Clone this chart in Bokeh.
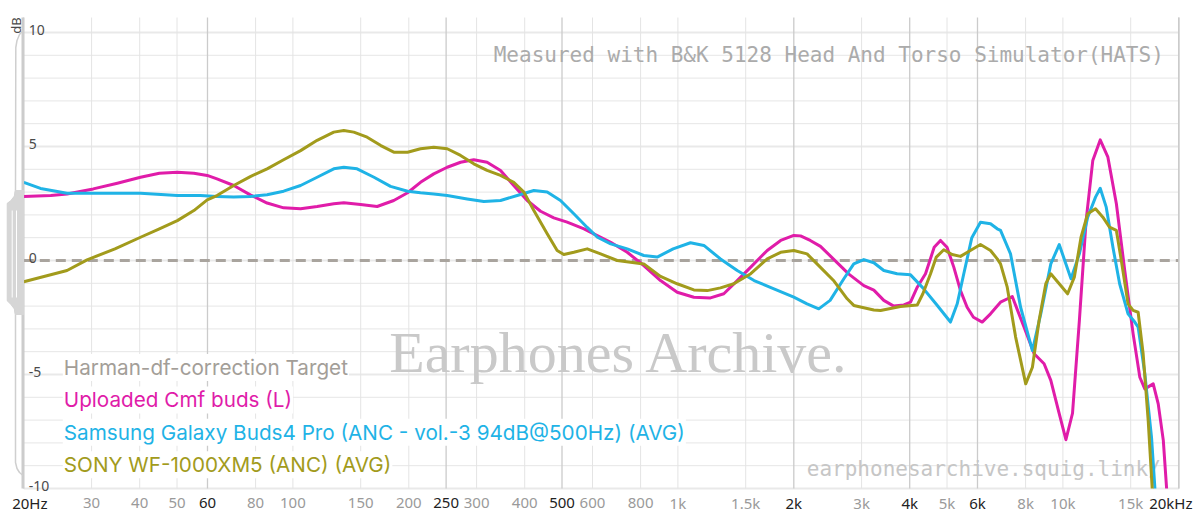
import numpy as np
from bokeh.plotting import figure
from bokeh.models import Range1d, ColumnDataSource
from bokeh.core.properties import value
from bokeh.embed import file_html
from bokeh.resources import INLINE

# ---------------- data ----------------
target_freq = [20, 20000]
target_db = [0.0, 0.0]

cmf_freq = [20, 23.5, 25.9, 30.3, 35.0, 40.2, 45.0, 50.1, 55.3, 59.9, 63.5, 70.2, 77.5, 85.7,
            94.6, 104.7, 115.6, 127.7, 135.6, 149.9, 165.5, 182.8, 198.6, 214.5, 232.2, 251.7,
            272.6, 295.0, 319.4, 346.2, 374.6, 406.1, 439.8, 476.1, 515.6, 570.4, 604.7, 669.0,
            738.6, 815.4, 901.2, 995.8, 1100, 1215, 1316, 1426, 1546, 1706, 1849, 2000, 2082,
            2207, 2346, 2544, 2780, 3040, 3228, 3426, 3636, 3862, 4020, 4185, 4397, 4631, 4809,
            5000, 5207, 5420, 5639, 5857, 6171, 6486, 6885, 7387, 7924, 8420, 8936, 9302, 9782,
            10182, 10592, 11036, 11488, 11958, 12500, 13088, 13768, 14474, 15220, 15842, 16322,
            17162, 17685, 18230, 18594]
cmf_db = [2.81, 2.85, 2.92, 3.14, 3.39, 3.65, 3.83, 3.87, 3.83, 3.73, 3.58, 3.29, 2.88, 2.52,
          2.31, 2.27, 2.37, 2.49, 2.53, 2.46, 2.37, 2.63, 2.97, 3.43, 3.80, 4.09,
          4.31, 4.42, 4.31, 3.95, 3.29, 2.63, 2.16, 1.87, 1.68, 1.39, 1.17, 0.80,
          0.36, -0.22, -0.88, -1.39, -1.61, -1.64, -1.46, -0.88, -0.29, 0.44, 0.88, 1.10, 1.08,
          0.88, 0.62, 0.04, -0.60, -1.10, -1.30, -1.75, -2.0, -1.95, -1.83, -1.17, -0.58, 0.58, 0.88,
          0.58, -0.29, -1.32, -2.05, -2.49, -2.70, -2.34, -1.83, -1.58, -2.92, -4.09, -4.53, -5.26, -6.72,
          -7.86, -6.70, -2.63, 1.75, 4.39, 5.29, 4.53, 2.49, -0.44, -3.22, -5.12, -5.63,
          -5.41, -6.29, -7.89, -10.0]

sam_freq = [20, 22.1, 25.9, 31.6, 40.2, 50.1, 57.5, 63.5, 70.2, 77.5, 85.7, 94.6, 104.7, 115.6,
            127.7, 135.6, 146.8, 162.4, 179.3, 198.6, 214.5, 232.2, 251.7, 283.6, 313.3, 346.2,
            382.5, 422.5, 457.6, 495.5, 536.6, 581.4, 618, 669, 738.6, 815.4, 883.6, 972, 1078,
            1168, 1290, 1426, 1577, 1776, 2000, 2165, 2322, 2485, 2698, 2863, 3040, 3228, 3426,
            3710, 4020, 4328, 4690, 5105, 5315, 5528, 5800, 6108, 6486, 6752, 6886, 7310, 7765,
            8333, 8760, 9302, 9782, 10182, 10496, 11036, 11600, 12154, 12500, 12958, 13488,
            14040, 14764, 15368, 15683, 16322, 16988, 17338]
sam_db = [3.43, 3.16, 2.95, 2.95, 2.95, 2.85, 2.85, 2.81, 2.78, 2.81, 2.88, 3.04, 3.29, 3.65,
          4.02, 4.09, 4.02, 3.65, 3.25, 3.04, 2.97, 2.92, 2.85, 2.70, 2.59, 2.63,
          2.85, 3.07, 3.0, 2.63, 2.05, 1.45, 1.02, 0.73, 0.51, 0.22, 0.15, 0.51, 0.78,
          0.66, 0.07, -0.44, -0.88, -1.24, -1.61, -1.90, -2.12, -1.75, -0.80, -0.15, 0.04, -0.10, -0.44,
          -0.58, -0.63, -1.20, -1.92, -2.70, -1.90, -0.58, 1.0, 1.68, 1.61, 1.39, 1.32, 0.29, -2.05,
          -3.95, -2.34, -0.15, 0.70, -0.15, -0.80, 0.29, 1.90, 2.78, 3.17, 2.34, 0.58,
          -1.02, -2.34, -2.70, -2.92, -4.97, -7.75, -10.0]

sony_freq = [20, 25.9, 29.2, 34.5, 40.2, 45.0, 50.1, 55.3, 59.9, 63.5, 70.2, 77.5, 85.7, 94.6,
             104.7, 115.6, 127.7, 135.6, 143.9, 155.9, 169.2, 182.8, 198.6, 214.5, 232.2, 251.7,
             272.6, 295.0, 319.4, 346.2, 374.6, 398.1, 422.5, 457.6, 485.7, 505.4, 536.6, 581.4,
             629.7, 695.6, 815.4, 901.2, 995.8, 1100, 1192, 1290, 1397, 1546, 1706, 1849, 2000,
             2165, 2346, 2544, 2752, 2863, 3228, 3360, 3785, 4185, 4328, 4531, 4690, 4905, 5155,
             5420, 5750, 6108, 6486, 6752, 6886, 7168, 7537, 8006, 8333, 8672, 9028, 9302, 9782,
             10286, 10707, 11145, 11600, 12154, 12700, 13214, 13768, 14183, 14764, 15220, 15683,
             16158, 16656, 17060]
sony_db = [-0.93, -0.44, 0.03, 0.51, 1.02, 1.39, 1.75, 2.19, 2.66, 2.85, 3.29, 3.68, 4.02, 4.42,
           4.82, 5.27, 5.63, 5.70, 5.63, 5.41, 5.04, 4.75, 4.75, 4.90, 4.97, 4.90,
           4.61, 4.24, 3.95, 3.73, 3.43, 3.0, 2.19, 1.17, 0.44, 0.26, 0.36, 0.51,
           0.29, 0.0, -0.15, -0.70, -1.02, -1.29, -1.32, -1.20, -1.02, -0.58, 0.07, 0.36, 0.44,
           0.29, -0.30, -0.90, -1.68, -1.97, -2.17, -2.19, -2.02, -1.95, -1.46, -0.58, 0.15, 0.47, 0.26,
           0.18, 0.44, 0.70, 0.44, 0.07, -0.15, -1.17, -3.36, -5.41, -4.68, -2.63, -1.02, -0.58, -1.02,
           -1.46, -0.73, 1.02, 2.05, 2.27, 1.90, 1.46, 1.32, 0.0, -1.90, -2.19, -2.27,
           -4.09, -7.02, -10.0]

legend_names = ["Harman-df-correction Target", "Uploaded Cmf buds (L)",
                "Samsung Galaxy Buds4 Pro (ANC - vol.-3 94dB@500Hz) (AVG)",
                "SONY WF-1000XM5 (ANC) (AVG)"]
legend_colors = ["#a39e98", "#e01ca9", "#1fb3e6", "#a29b1c"]

x_ticks = [20, 30, 40, 50, 60, 80, 100, 150, 200, 250, 300, 400, 500, 600, 800, 1000,
           1500, 2000, 3000, 4000, 5000, 6000, 8000, 10000, 15000, 20000]
x_tick_labels = ["20Hz", "30", "40", "50", "60", "80", "100", "150", "200", "250", "300", "400",
                 "500", "600", "800", "1k", "1.5k", "2k", "3k", "4k", "5k", "6k", "8k", "10k",
                 "15k", "20kHz"]
x_major = ["20Hz", "60", "250", "500", "2k", "4k", "6k", "20kHz"]
y_ticks = [10, 5, 0, -5, -10]
y_tick_labels = ["10", "5", "0", "-5", "-10"]

# ---------------- layout helpers (page pixels) ----------------
W, H = 1196, 524
ORIGIN_X, ORIGIN_Y = 0, 0   # where the canvas lands on the page
PX_DEC = 385.0        # pixels per decade
PX_20 = 23.3          # page x of 20 Hz
PX_DB = 22.8          # pixels per dB
PY_0 = 260.0          # page y of 0 dB


def px_to_f(px):
    return 20 * 10 ** ((px - PX_20) / PX_DEC)


def py_to_db(py):
    return (PY_0 - py) / PX_DB


F_LO, F_HI = 20, 20000
DB_TOP = py_to_db(17)
DB_BOT = -10

p = figure(width=W, height=H, x_axis_type="log",
           x_range=Range1d(px_to_f(ORIGIN_X), px_to_f(ORIGIN_X + W)),
           y_range=Range1d(py_to_db(ORIGIN_Y + H), py_to_db(ORIGIN_Y)),
           x_axis_location=None, y_axis_location=None,
           toolbar_location=None, output_backend="svg", min_border=0)
p.grid.visible = False
p.outline_line_color = None
p.background_fill_color = "white"
p.border_fill_color = "white"

# horizontal grid
minor_y = [v for v in range(-10, 11) if v % 5 != 0]
major_y = [v for v in range(-10, 11) if v % 5 == 0]
p.segment(x0=F_LO, x1=F_HI, y0=minor_y, y1=minor_y, line_color="#e6e6e6", line_width=1)
p.segment(x0=F_LO, x1=F_HI, y0=major_y, y1=major_y, line_color="#e9e9e9", line_width=2)

# vertical grid
vx_minor = [f for f, l in zip(x_ticks, x_tick_labels) if l not in x_major]
vx_major = [f for f, l in zip(x_ticks, x_tick_labels) if l in x_major]
p.segment(x0=vx_minor, x1=vx_minor, y0=DB_BOT, y1=DB_TOP, line_color="#e4e4e4", line_width=1)
p.segment(x0=vx_major, x1=vx_major, y0=DB_BOT, y1=DB_TOP, line_color="#cbcbcb", line_width=1.3)

# watermarks
p.text(x=[px_to_f(619)], y=[py_to_db(352)], text=["Earphones Archive."],
       text_font=value("Liberation Serif"), text_font_size="58px", text_color="#c9c9c9",
       text_align="center", text_baseline="alphabetic")
p.text(x=[F_HI], y=[py_to_db(54)], x_offset=-15,
       text=["Measured with B&K 5128 Head And Torso Simulator(HATS)"],
       text_font=value("DejaVu Sans Mono"), text_font_size="21px", text_color="#ababab",
       text_align="right", text_baseline="middle")
p.text(x=[F_HI], y=[py_to_db(468)], x_offset=-18, text=["earphonesarchive.squig.link/"],
       text_font=value("DejaVu Sans Mono"), text_font_size="21px", text_color="#c6c6c6",
       text_align="right", text_baseline="middle")

# target + curves
p.line(target_freq, target_db, line_color="#a9a49e", line_width=3, line_dash="10 6")
p.line(cmf_freq, cmf_db, line_color=legend_colors[1], line_width=3, line_join="round")
p.line(sam_freq, sam_db, line_color=legend_colors[2], line_width=3, line_join="round")
p.line(sony_freq, sony_db, line_color=legend_colors[3], line_width=3, line_join="round")

# legend texts
leg_y = [py_to_db(367 + i * 32.4) for i in range(len(legend_names))]
p.text(x=[F_LO] * 4, y=leg_y, x_offset=39, text=legend_names, text_color=legend_colors,
       text_font=value("Inter"), text_font_size="20.7px", text_baseline="middle",
       text_align="left", background_fill_color="white", padding=1)

# y tick labels (inside plot)
p.text(x=[F_LO] * len(y_ticks), y=y_ticks, x_offset=5, y_offset=-3, text=y_tick_labels,
       text_font=value("Noto Sans"), text_font_size="14px", text_color="#4a4a4a",
       text_align="left", text_baseline="alphabetic")
p.text(x=[F_LO], y=[10], x_offset=-8, y_offset=-7, text=["dB"], angle=np.pi / 2,
       text_font=value("Noto Sans"), text_font_size="13px", text_color="#4a4a4a",
       text_align="center", text_baseline="middle")

# x tick labels
xoff = [0] * len(x_ticks)
xoff[0] = 6
xoff[-1] = -8
xsrc = ColumnDataSource(dict(x=x_ticks, y=[DB_BOT] * len(x_ticks), text=x_tick_labels,
                             color=["#222222" if l in x_major else "#9a9a9a" for l in x_tick_labels],
                             xo=xoff))
p.text(x="x", y="y", text="text", text_color="color", x_offset="xo", y_offset=14, source=xsrc,
       text_font=value("Noto Sans"), text_font_size="15px", text_align="center",
       text_baseline="middle")

# left axis bar and scaler handle (chrome)
p.segment(x0=[px_to_f(22.3)], x1=[px_to_f(22.3)], y0=[DB_BOT], y1=[DB_TOP],
          line_color="#cccccc", line_width=2.6)
p.segment(x0=[F_HI], x1=[F_HI], y0=[DB_BOT], y1=[DB_TOP], line_color="#cbcbcb", line_width=1.3)
outline_px = [(22.5, 30), (19, 34), (16.5, 40), (15.3, 47), (15, 190), (14, 196), (11, 200),
              (7, 203), (7, 300), (11, 304), (14, 308), (15, 314), (15, 462), (16.5, 468),
              (19, 472), (22.5, 475)]
p.line([px_to_f(a) for a, b in outline_px], [py_to_db(b) for a, b in outline_px],
       line_color="#cfcfcf", line_width=1.5)
block_px = [(15, 190), (14, 196), (11, 200), (7, 203), (7, 300), (11, 304), (14, 308),
            (15, 314), (23, 314), (23, 190)]
p.patch([px_to_f(a) for a, b in block_px], [py_to_db(b) for a, b in block_px],
        fill_color="#d6d6d6", line_color="#d6d6d6")
for wx in (11.7, 16):
    p.segment(x0=[px_to_f(wx)], x1=[px_to_f(wx)], y0=[py_to_db(210)], y1=[py_to_db(297)],
              line_color="white", line_width=1)

open("out.html", "w").write(file_html(p, INLINE))
